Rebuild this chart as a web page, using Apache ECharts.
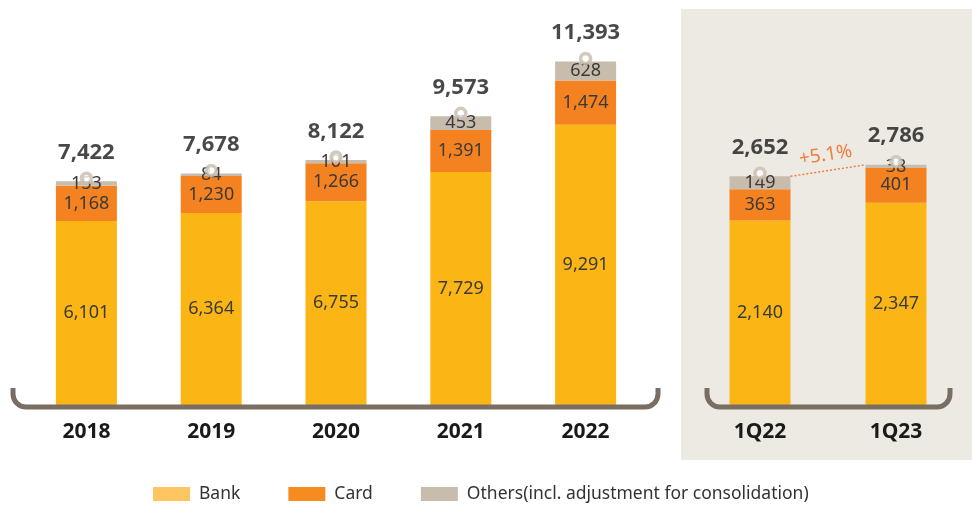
<!DOCTYPE html>
<html>
<head>
<meta charset="utf-8">
<script src="https://cdn.jsdelivr.net/npm/echarts@6/dist/echarts.min.js"></script>
<style>
  html, body { margin: 0; padding: 0; background: #fff; }
  #chart { width: 972px; height: 506px; }
</style>
</head>
<body>
<div id="chart"></div>
<script>
// yearly
const years = ['2018', '2019', '2020', '2021', '2022']
const bankYear = [6101, 6364, 6755, 7729, 9291]
const cardYear = [1168, 1230, 1266, 1391, 1474]
const otherYear = [153, 84, 101, 453, 628]
// quarterly
const quarters = ['1Q22', '1Q23']
const bankQ = [2140, 2347]
const cardQ = [363, 401]
const otherQ = [149, 38]
const growthLabel = '+5.1%'

const names = ['Bank', 'Card', 'Others(incl. adjustment for consolidation)']
const barColors = ['#fbb615', '#f58220', '#c8bcad']
const legendColors = ['#fec561', '#f68b1f', '#c8bcad']

const font = 'Noto Sans'
const fmt = v => v.toLocaleString('en-US')
const sum = (a, b, c) => a.map((v, i) => v + b[i] + c[i])
const totalYear = sum(bankYear, cardYear, otherYear)
const totalQ = sum(bankQ, cardQ, otherQ)

let myChart = echarts.init(document.getElementById('chart'))

// bracket under each panel: two short uprights, rounded corners, long base
function bracket (x1, x2, top, base, r) {
  let st = { fill: 'none', stroke: '#7a6e62', lineWidth: 5 }
  return [
    { type: 'polyline', z: 100, shape: { points: [[x1, top], [x1, base - r]] }, style: st },
    { type: 'arc', z: 100, shape: { cx: x1 + r, cy: base - r, r: r, startAngle: Math.PI / 2, endAngle: Math.PI, clockwise: true }, style: st },
    { type: 'polyline', z: 100, shape: { points: [[x1 + r, base], [x2 - r, base]] }, style: st },
    { type: 'arc', z: 100, shape: { cx: x2 - r, cy: base - r, r: r, startAngle: 0, endAngle: Math.PI / 2, clockwise: true }, style: st },
    { type: 'polyline', z: 100, shape: { points: [[x2, base - r], [x2, top]] }, style: st }
  ]
}

function stackSeries (data, axis, stack) {
  return data.map((d, k) => ({
    name: names[k],
    type: 'bar',
    stack: stack,
    xAxisIndex: axis,
    yAxisIndex: axis,
    barWidth: 61,
    itemStyle: { color: barColors[k] },
    label: {
      show: true,
      position: 'inside',
      formatter: p => fmt(p.value),
      color: '#3a3a3a',
      fontFamily: font,
      fontSize: 18
    },
    data: d
  }))
}

function totalSeries (data, axis) {
  return {
    type: 'scatter',
    xAxisIndex: axis,
    yAxisIndex: axis,
    symbol: 'circle',
    symbolSize: 10,
    symbolOffset: [0, -3],
    z: 5,
    itemStyle: { color: '#ffffff', borderColor: '#c8bcad', borderWidth: 3.5 },
    label: {
      show: true,
      position: 'top',
      distance: 8,
      formatter: p => fmt(p.value),
      color: '#1a1a1a',
      fontFamily: font,
      fontWeight: 'bold',
      fontSize: 22
    },
    data: data
  }
}

let catLabel = { margin: 17, color: '#1a1a1a', fontWeight: 'bold', fontSize: 21, fontFamily: font }

let option = {
  animation: false,
  textStyle: { fontFamily: font },
  graphic: [
    {
      type: 'rect',
      z: -1,
      shape: { x: 681, y: 9, width: 291, height: 451 },
      style: { fill: '#edeae4' }
    },
    ...bracket(13, 658, 388, 407, 13),
    ...bracket(707, 950, 388, 407, 13)
  ],
  legend: {
    left: 148,
    bottom: -2,
    itemWidth: 37,
    itemHeight: 14,
    itemGap: 48,
    textStyle: { color: '#333', fontSize: 17.5, fontFamily: font, padding: [0, 0, 0, 4] },
    data: names.map((n, k) => ({ name: n, icon: 'rect', itemStyle: { color: legendColors[k] } }))
  },
  grid: [
    { left: 24, width: 624, top: 13, bottom: 101 },
    { left: 692, width: 272, top: 17, bottom: 101 }
  ],
  xAxis: [
    {
      type: 'category',
      gridIndex: 0,
      data: years,
      axisLine: { show: false },
      axisTick: { show: false },
      axisLabel: catLabel
    },
    {
      type: 'category',
      gridIndex: 1,
      data: quarters,
      axisLine: { show: false },
      axisTick: { show: false },
      axisLabel: catLabel
    }
  ],
  yAxis: [
    { type: 'value', gridIndex: 0, min: 0, max: 13000, show: false, splitLine: { show: false } },
    { type: 'value', gridIndex: 1, min: 0, max: 4500, show: false, splitLine: { show: false } }
  ],
  series: [
    ...stackSeries([bankYear, cardYear, otherYear], 0, 'year'),
    totalSeries(totalYear, 0),
    ...stackSeries([bankQ, cardQ, otherQ], 1, 'quarter'),
    totalSeries(totalQ, 1),
    {
      // dotted growth line between the two quarter bars
      type: 'custom',
      xAxisIndex: 1,
      yAxisIndex: 1,
      z: 6,
      data: [[0, totalQ[0], 1, totalQ[1]]],
      renderItem: function (params, api) {
        let a = api.coord([api.value(0), api.value(1)])
        let b = api.coord([api.value(2), api.value(3)])
        let half = 30.5
        let x1 = a[0] + half, y1 = a[1]
        let x2 = b[0] - half, y2 = b[1]
        let ang = Math.atan2(y1 - y2, x2 - x1)
        return {
          type: 'group',
          children: [
            {
              type: 'line',
              shape: { x1: x1, y1: y1, x2: x2, y2: y2 },
              style: { stroke: '#f07f3c', lineWidth: 1.5, lineDash: [2, 2] }
            },
            {
              type: 'text',
              x: (x1 + x2) / 2,
              y: (y1 + y2) / 2,
              rotation: ang,
              style: {
                text: growthLabel,
                x: 0,
                y: -6,
                fill: '#f07f3c',
                font: '19px "Noto Sans"',
                align: 'center',
                verticalAlign: 'bottom'
              }
            }
          ]
        }
      }
    }
  ]
}
myChart.setOption(option)
</script>
</body>
</html>
